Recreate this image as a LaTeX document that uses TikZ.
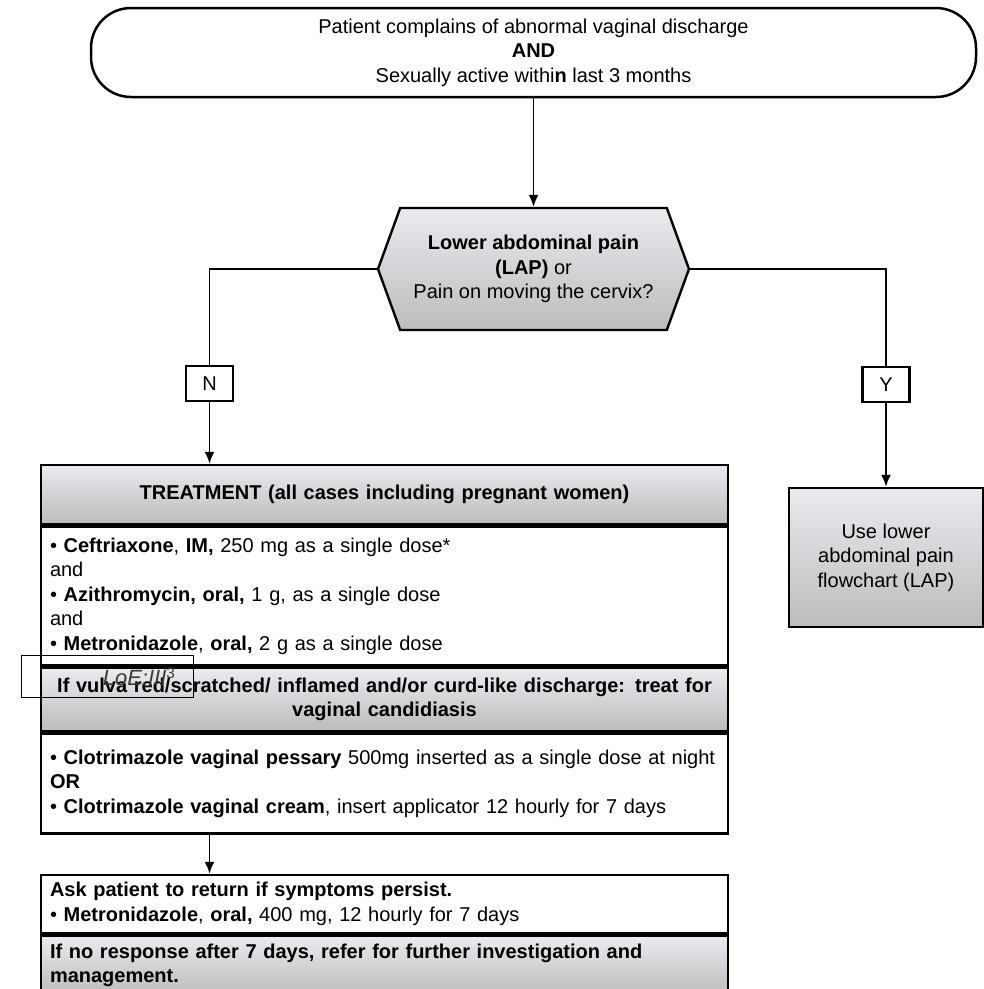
\documentclass[tikz,border=0pt]{standalone}
\usepackage{fontspec}
\setmainfont{Liberation Sans}
\usetikzlibrary{shapes.symbols, arrows.meta, positioning}
\definecolor{shadetop}{RGB}{234, 235, 239}
\definecolor{shadebot}{RGB}{188, 188, 190}
\definecolor{loegray}{RGB}{60, 60, 60}
\newcommand{\flowfont}{\fontsize{20}{24.5}\selectfont}

\begin{document}
\begin{tikzpicture}[x=1pt, y=-1pt, font=\flowfont,
  startbox/.style={draw, line width=2.5pt, rounded corners=40pt, fill=white, minimum width=885pt, minimum height=89pt, align=center, inner sep=0pt},
  decision/.style={signal, signal to=west and east, signal pointer angle=140, draw, line width=2.4pt, top color=shadetop, bottom color=shadebot, minimum width=311pt, minimum height=122pt, align=center, inner sep=0pt},
  tbox/.style={draw, line width=2.5pt, inner xsep=9pt, inner ysep=0pt, text width=669pt, minimum width=687pt},
  headbox/.style={tbox, top color=shadetop, bottom color=shadebot, align=center, font=\flowfont\bfseries},
  headleft/.style={headbox, align=left},
  bodybox/.style={tbox, fill=white, align=left},
  lapbox/.style={draw, line width=2.5pt, top color=shadetop, bottom color=shadebot, minimum width=194pt, minimum height=139pt, align=center, inner sep=0pt},
  yn/.style={draw, line width=2.4pt, fill=white, minimum width=47pt, minimum height=35pt, inner sep=0pt},
  loebox/.style={draw, line width=1.4pt, minimum width=172pt, minimum height=42pt, text width=136pt, inner xsep=18pt, inner ysep=0pt, align=right, text=loegray, font=\fontsize{22}{24}\selectfont},
  line/.style={line width=1.8pt},
  link/.style={line width=1.8pt, -{Latex[length=12pt, width=10pt]}}]
  \useasboundingbox (0, 0) rectangle (984, 989);

  \node[startbox] (start) at (533.5, 52.5) {Patient complains of abnormal vaginal discharge\\\textbf{AND}\\Sexually active withi\textbf{n} last 3 months};
  \node[decision] (pain) at (533.5, 269) {\textbf{Lower abdominal pain}\\\textbf{(LAP)} or\\Pain on moving the cervix?};
  \draw[link] (start.south -| pain.north) -- (pain.north);

  \node[yn] (no) at (209.5, 383.5) {N};
  \node[yn] (yes) at (886, 384.5) {Y};
  \node[lapbox] (lap) at (886, 557.5) {Use lower\\abdominal pain\\flowchart (LAP)};
  \draw[line] (pain.west) -| (no.north);
  \draw[line] (pain.east) -| (yes.north);
  \draw[link] (yes.south) -- (lap.north);

  \node[headbox, minimum height=59pt] (treat) at (384.5, 494.5) {TREATMENT (all cases including pregnant women)};
  \node[bodybox, minimum height=139pt, below=0pt of treat] (drugs) {• \textbf{Ceftriaxone}, \textbf{IM,} 250 mg as a single dose*\\and\\• \textbf{Azithromycin, oral,} 1 g, as a single dose\\and\\• \textbf{Metronidazole}, \textbf{oral,} 2 g as a single dose};
  \node[headbox, minimum height=63pt, below=0pt of drugs] (cand) {If vulva red/scratched/ inflamed and/or curd-like discharge: treat for\\vaginal candidiasis};
  \node[bodybox, minimum height=100pt, below=0pt of cand] (clot) {• \textbf{Clotrimazole vaginal pessary} 500mg inserted as a single dose at night\\\textbf{OR}\\• \textbf{Clotrimazole vaginal cream}, insert applicator 12 hourly for 7 days\\[6pt]};
  \node[loebox] (loe) at (107.5, 676.5) {\textit{LoE:III}\textsuperscript{3}};
  \draw[link] (no.south) -- (no.south |- treat.north);

  \node[bodybox, minimum height=58pt] (ask) at (384.5, 904) {\textbf{Ask patient to return if symptoms persist.}\\• \textbf{Metronidazole}, \textbf{oral,} 400 mg, 12 hourly for 7 days};
  \node[headleft, minimum height=60pt, below=0pt of ask] (refer) {If no response after 7 days, refer for further investigation and\\management.};
  \draw[link] (clot.south -| no) -- (ask.north -| no);
\end{tikzpicture}
\end{document}
